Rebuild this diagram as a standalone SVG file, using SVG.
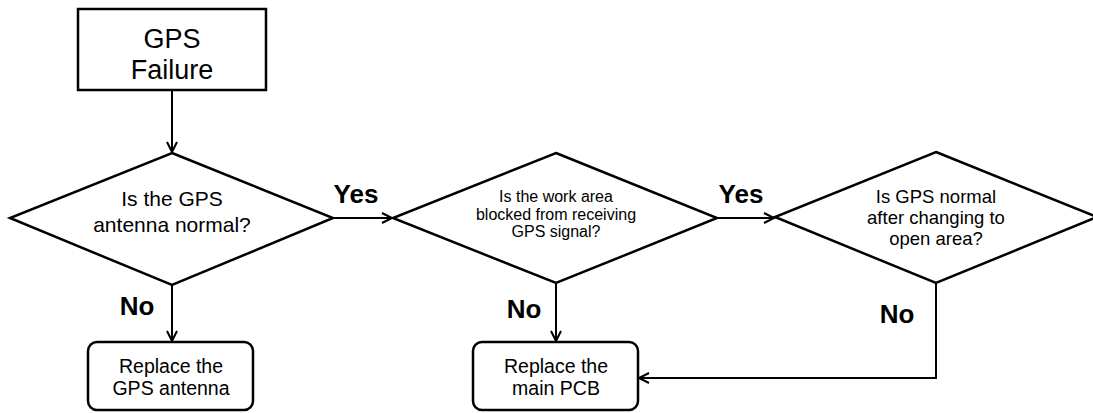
<svg xmlns="http://www.w3.org/2000/svg" width="1093" height="413" viewBox="0 0 1093 413">
<style>
.shape{fill:#fff;stroke:#000;stroke-width:2.5}
.conn{fill:none;stroke:#000;stroke-width:2}
text{font-family:"Liberation Sans",Arial,sans-serif;fill:#000;text-anchor:middle}
.t1{font-size:27px}
.d1{font-size:21px}
.d2{font-size:16px}
.d3{font-size:18.5px}
.b{font-size:19.5px}
.lbl{font-size:26px;font-weight:bold}
</style>
<defs>
<marker id="arr" markerUnits="userSpaceOnUse" markerWidth="14" markerHeight="14" refX="11" refY="6" orient="auto" viewBox="0 0 14 12">
<path d="M1,1 L11,6 L1,11" fill="none" stroke="#000" stroke-width="2"/>
</marker>
</defs>
<g id="connectors">
<line class="conn" x1="172" y1="90" x2="172" y2="152" marker-end="url(#arr)"/>
<line class="conn" x1="333" y1="218" x2="392" y2="218" marker-end="url(#arr)"/>
<line class="conn" x1="717" y1="218" x2="774" y2="218" marker-end="url(#arr)"/>
<line class="conn" x1="172" y1="285" x2="172" y2="341" marker-end="url(#arr)"/>
<line class="conn" x1="556" y1="283" x2="556" y2="341" marker-end="url(#arr)"/>
<polyline class="conn" points="936,283 936,378 639,378" marker-end="url(#arr)"/>
<text class="lbl" x="356" y="203">Yes</text>
<text class="lbl" x="741" y="203">Yes</text>
<text class="lbl" x="137" y="315">No</text>
<text class="lbl" x="524" y="318">No</text>
<text class="lbl" x="897" y="323">No</text>
</g>
<g id="start">
<rect class="shape" x="78" y="9" width="188" height="81"/>
<text class="t1" x="172" y="48">GPS</text>
<text class="t1" x="172" y="79">Failure</text>
</g>
<g id="q1">
<polygon class="shape" points="172,153 333,218 172,285 10,218"/>
<text class="d1" x="172" y="206">Is the GPS</text>
<text class="d1" x="172" y="232">antenna normal?</text>
</g>
<g id="q2">
<polygon class="shape" points="556,153 717,218 556,283 393,218"/>
<text class="d2" x="556" y="202">Is the work area</text>
<text class="d2" x="556" y="220">blocked from receiving</text>
<text class="d2" x="556" y="237">GPS signal?</text>
</g>
<g id="q3">
<polygon class="shape" points="936,152 1097,217 936,283 775,217"/>
<text class="d3" x="936" y="203">Is GPS normal</text>
<text class="d3" x="936" y="224">after changing to</text>
<text class="d3" x="936" y="245">open area?</text>
</g>
<g id="r1">
<rect class="shape" x="88" y="342" width="165" height="68" rx="9"/>
<text class="b" x="171" y="373">Replace the</text>
<text class="b" x="171" y="395">GPS antenna</text>
</g>
<g id="r2">
<rect class="shape" x="473" y="342" width="165" height="68" rx="9"/>
<text class="b" x="556" y="373">Replace the</text>
<text class="b" x="556" y="395">main PCB</text>
</g>
</svg>
